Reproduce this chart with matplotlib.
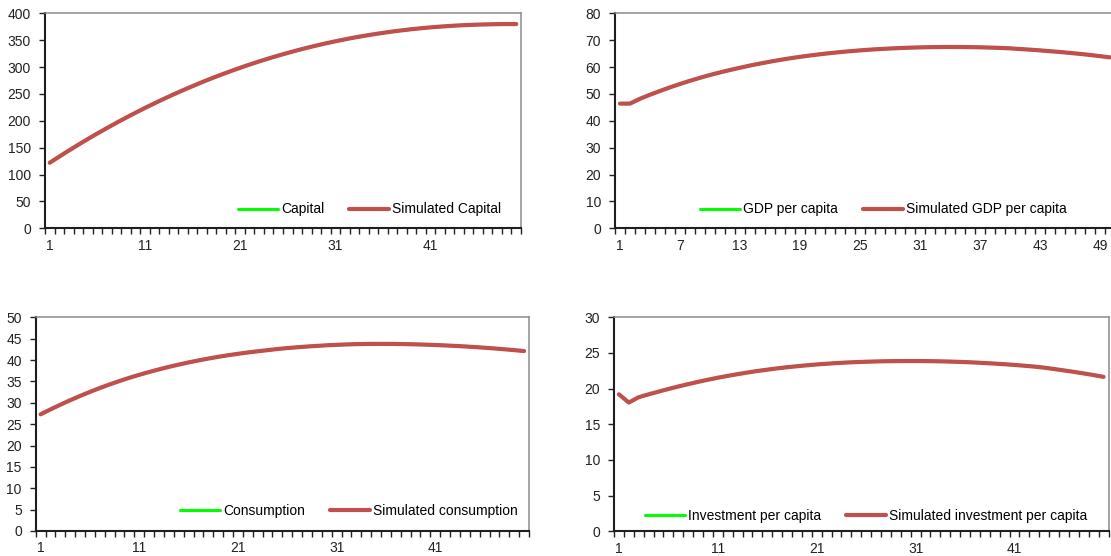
import matplotlib
matplotlib.use("Agg")
import matplotlib.pyplot as plt
from matplotlib.ticker import FixedLocator, NullFormatter
import numpy as np

plt.rcParams['font.family'] = ['Liberation Sans', 'DejaVu Sans']
plt.rcParams['font.size'] = 10

periods = list(range(1, 51))

capital = [122.0, 133.4, 144.6, 155.5, 166.1, 176.4, 186.4, 196.2, 205.7, 214.9,
           223.9, 232.5, 240.9, 249.1, 256.9, 264.5, 271.9, 279.0, 285.8, 292.3,
           298.6, 304.7, 310.5, 316.0, 321.3, 326.3, 331.1, 335.7, 340.0, 344.1,
           347.9, 351.5, 354.9, 358.0, 360.9, 363.6, 366.1, 368.3, 370.4, 372.2,
           373.8, 375.2, 376.4, 377.5, 378.3, 379.0, 379.4, 379.8, 380.0, 380.0]
sim_capital = list(capital)

gdp_pc = [46.4, 46.4, 48.2, 49.7, 51.1, 52.45, 53.7, 54.9, 56.0, 57.05,
          58.0, 58.9, 59.75, 60.55, 61.3, 62.0, 62.65, 63.25, 63.8, 64.3,
          64.76, 65.18, 65.56, 65.9, 66.2, 66.47, 66.7, 66.9, 67.07, 67.21,
          67.32, 67.4, 67.45, 67.47, 67.46, 67.42, 67.35, 67.25, 67.12, 66.96,
          66.7, 66.47, 66.2, 65.9, 65.6, 65.25, 64.9, 64.5, 64.05, 63.6]
sim_gdp_pc = list(gdp_pc)

consumption = [27.30, 28.45, 29.55, 30.60, 31.60, 32.55, 33.45, 34.30, 35.10, 35.85,
               36.55, 37.20, 37.82, 38.40, 38.94, 39.44, 39.91, 40.35, 40.75, 41.12,
               41.46, 41.77, 42.05, 42.31, 42.58, 42.80, 42.99, 43.16, 43.31, 43.45,
               43.56, 43.65, 43.72, 43.76, 43.78, 43.78, 43.76, 43.72, 43.67, 43.60,
               43.52, 43.42, 43.31, 43.18, 43.04, 42.88, 42.71, 42.52, 42.32, 42.10]
sim_consumption = list(consumption)

investment = [19.20, 18.05, 18.80, 19.20, 19.58, 19.95, 20.30, 20.63, 20.95, 21.25,
              21.53, 21.79, 22.03, 22.26, 22.47, 22.66, 22.84, 23.00, 23.14, 23.27,
              23.39, 23.49, 23.58, 23.66, 23.72, 23.77, 23.81, 23.84, 23.86, 23.87,
              23.87, 23.86, 23.84, 23.81, 23.77, 23.72, 23.66, 23.59, 23.51, 23.42,
              23.32, 23.21, 23.09, 22.94, 22.75, 22.55, 22.35, 22.13, 21.90, 21.65]
sim_investment = list(investment)

W, H = 1111, 556
fig = plt.figure(figsize=(W / 100, H / 100), dpi=100)


def px_axes(left, right, top, bottom):
    return fig.add_axes([left / W, 1 - bottom / H, (right - left) / W, (bottom - top) / H])


GREEN = '#00FF00'
RED = '#C0504D'

panels = [
    dict(box=(45, 521, 13.3, 228.3), y=capital, ys=sim_capital, ymax=400, ystep=50, xstep=10,
         labels=('Capital', 'Simulated Capital'), leg=(0.682, 0.088)),
    dict(box=(615, 1115, 13.3, 228.3), y=gdp_pc, ys=sim_gdp_pc, ymax=80, ystep=10, xstep=6,
         labels=('GDP per capita', 'Simulated GDP per capita'), leg=(0.536, 0.088)),
    dict(box=(35.7, 529, 317.3, 531), y=consumption, ys=sim_consumption, ymax=50, ystep=5, xstep=10,
         labels=('Consumption', 'Simulated consumption'), leg=(0.635, 0.092)),
    dict(box=(614, 1108.5, 317.3, 531.3), y=investment, ys=sim_investment, ymax=30, ystep=5, xstep=10,
         labels=('Investment per capita', 'Simulated investment per capita'), leg=(0.51, 0.073)),
]

for p in panels:
    ax = px_axes(*p['box'])
    ax.plot(periods, p['y'], color=GREEN, lw=2.2, label=p['labels'][0], solid_capstyle='round', zorder=3)
    ax.plot(periods, p['ys'], color=RED, lw=3.0, label=p['labels'][1], solid_capstyle='round', zorder=4)
    ax.set_xlim(0.5, 50.5)
    ax.set_ylim(0, p['ymax'])
    ax.set_yticks(np.arange(0, p['ymax'] + 0.1, p['ystep']))
    ax.set_xticks(periods[::p['xstep']])
    ax.set_xticklabels([str(v) for v in periods[::p['xstep']]])
    ax.xaxis.set_minor_locator(FixedLocator([v + 0.5 for v in [0] + periods]))
    ax.xaxis.set_minor_formatter(NullFormatter())
    ax.tick_params(axis='x', which='major', length=0, pad=7.5, labelsize=10, colors='#222222')
    ax.tick_params(axis='x', which='minor', length=4, width=1, color='#222222', direction='out')
    ax.tick_params(axis='y', which='major', length=4, width=1, color='#222222', direction='out',
                   pad=6, labelsize=10, labelcolor='#222222')
    for s in ('left', 'bottom'):
        ax.spines[s].set_color('#1e1e1e')
        ax.spines[s].set_linewidth(1.5)
    for s in ('top', 'right'):
        ax.spines[s].set_color('#8a8a8a')
        ax.spines[s].set_linewidth(1.1)
    ax.legend(loc='center', bbox_to_anchor=p['leg'], ncol=2, frameon=False,
              handlelength=2.9, handletextpad=0.2, columnspacing=1.8, fontsize=10,
              borderpad=0, borderaxespad=0)

fig.savefig('out.png', dpi=100)
